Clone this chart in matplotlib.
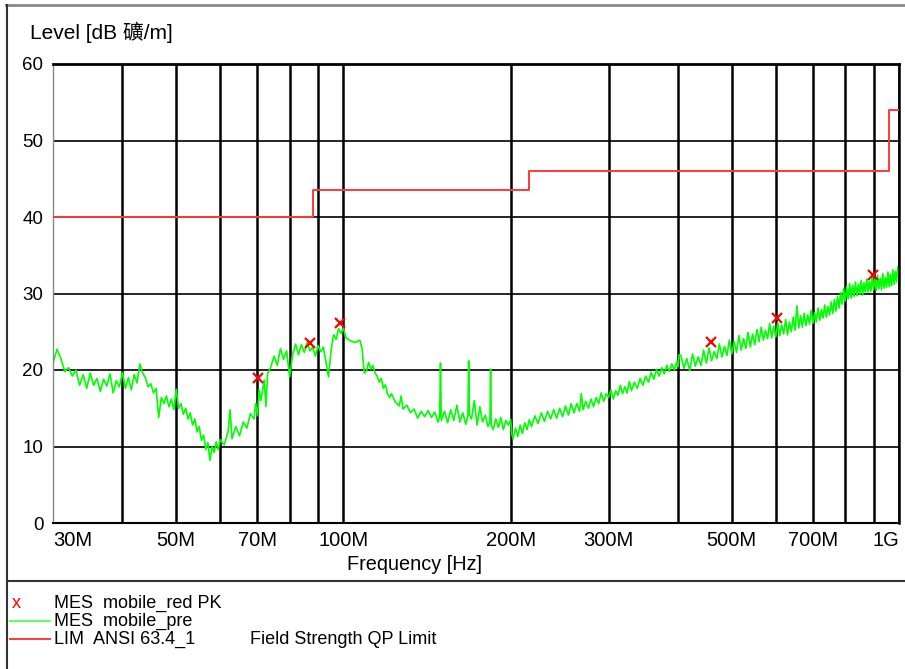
import matplotlib
matplotlib.use("Agg")
import matplotlib.pyplot as plt
from matplotlib.lines import Line2D

plt.rcParams['font.family'] = ['Liberation Sans', 'Noto Sans CJK SC', 'DejaVu Sans']

# Measured pre-scan trace (MHz, dBuV/m)
trace_freq = [
    30, 30.5, 31, 31.5, 32, 32.5, 33, 33.5, 34, 34.5, 35, 35.5, 36, 36.5, 37, 37.5,
    38, 38.5, 39, 39.5, 40, 40.5, 41, 41.5, 42, 42.5, 43, 43.5, 44, 44.5, 45, 45.5,
    46, 46.5, 47, 47.5, 48, 48.5, 49, 49.5, 50, 50.5, 51, 51.5, 52, 52.5, 53, 53.5,
    54, 54.5, 55, 55.5, 56, 56.5, 57, 57.5, 58, 58.5, 59, 59.5, 60,
    61, 62, 62.5, 63, 64, 65, 66, 67, 68, 69, 69.5, 70, 70.5, 71, 72, 72.5, 73, 74,
    75, 76, 77, 78, 79, 80, 81, 82, 83, 84, 85, 86, 87, 88, 89, 90, 91, 92, 93, 94,
    95, 96, 97, 98, 99, 100,
    101, 103, 105, 107, 108, 109, 110, 111, 112, 113, 114, 115, 116, 117, 118, 119,
    120, 121, 122, 124, 126, 127, 128, 130, 132, 134, 136, 138, 140, 142, 144, 146,
    148, 149, 149.5, 150, 152, 154, 156, 158, 160, 162, 164, 166, 167.5, 168, 168.5,
    170, 172, 174, 176, 178, 180, 182, 183.5, 184, 184.5, 186, 188, 190, 192, 194,
    196, 198, 200,
    201, 202, 204, 206, 208, 210, 212, 214, 216, 218, 221, 224, 227, 230, 233, 236,
    239, 242, 245, 248, 251, 254, 257, 260, 263, 266, 268, 270, 273, 276, 279, 282,
    285, 288, 291, 294, 297, 300, 303, 306, 309, 312, 315, 318, 321, 324, 327, 330,
    334, 338, 342, 346, 350, 354, 358, 362, 366, 370, 374, 378, 382, 386, 390, 394,
    398, 400, 402,
    405, 410, 415, 420, 425, 430, 435, 440, 445, 450, 455, 460, 465, 470, 475, 480,
    485, 490, 495, 500, 505, 510, 515, 520, 525, 530, 535, 540, 545, 550, 555, 560,
    565, 570, 575, 580, 585, 590, 595, 600, 605, 610, 615, 620, 625, 630, 635, 640,
    645, 650, 655, 660, 665, 670, 675, 680, 685, 690, 695, 700, 705, 710, 715, 720,
    725, 730, 735, 740, 745, 750, 755, 760, 765, 770, 775, 780, 785, 790, 795, 800,
    805, 810, 815, 820, 825, 830, 835, 840, 845, 850, 855, 860, 865, 870, 875, 880,
    885, 890, 895, 900, 905, 910, 915, 920, 925, 930, 935, 940, 945, 950, 955, 960,
    965, 970, 975, 980, 985, 990, 995, 1000,
]
trace_level = [
    20.9, 22.7, 21.5, 19.8, 20.3, 19.2, 20.0, 18.0, 19.4, 17.6, 19.6, 18.0, 18.9, 17.2, 18.8, 17.9,
    19.5, 17.0, 18.6, 17.8, 19.7, 17.6, 19.0, 17.4, 19.4, 18.3, 20.8, 19.6, 19.0, 17.8, 18.2, 17.0,
    17.6, 13.8, 16.4, 15.6, 16.6, 15.2, 16.2, 14.8, 17.5, 15.0, 15.6, 14.2, 15.0, 13.6, 14.4, 12.8,
    13.6, 11.9, 12.6, 10.8, 11.5, 9.6, 10.5, 8.2, 10.0, 9.2, 10.6, 9.6, 10.9,
    10.2, 12.0, 14.8, 11.0, 12.6, 11.4, 13.2, 12.4, 14.3, 13.6, 15.6, 14.0, 17.4, 16.0, 18.7, 15.2, 19.5, 20.4,
    21.8, 20.6, 22.8, 21.4, 22.5, 19.1, 22.0, 23.4, 22.0, 23.3, 22.3, 23.6, 22.5, 23.0, 21.8, 23.2, 22.4, 23.0, 21.0, 19.1,
    22.6, 24.6, 24.0, 25.4, 24.8, 25.5,
    24.2, 23.8, 23.6, 23.9, 22.8, 19.6, 19.9, 21.0, 20.1, 20.6, 19.6, 19.2, 18.4, 18.9, 17.6, 18.1,
    16.9, 16.4, 16.9, 15.8, 15.3, 16.6, 14.9, 15.4, 14.4, 14.9, 13.7, 14.6, 13.9, 14.7, 13.8, 14.5,
    13.2, 14.0, 20.9, 13.4, 14.6, 13.1, 14.8, 13.4, 15.4, 13.2, 14.4, 12.9, 14.0, 21.2, 14.2,
    13.6, 16.0, 12.8, 15.2, 13.2, 14.1, 12.6, 13.2, 20.1, 12.8, 12.2, 13.6, 12.5, 13.8, 12.2,
    13.4, 12.8, 13.5,
    11.5, 11.0, 12.4, 11.3, 12.8, 11.7, 13.1, 12.2, 13.5, 12.6, 14.0, 13.0, 14.4, 13.3, 14.6, 13.6,
    14.8, 13.7, 15.0, 13.9, 15.3, 14.1, 15.6, 14.4, 15.6, 14.6, 16.9, 14.8, 15.9, 15.0, 16.2, 15.2,
    16.4, 15.6, 17.0, 15.9, 16.9, 16.4, 17.4, 16.2, 17.3, 16.7, 18.0, 16.9, 17.8, 17.0, 18.5, 17.3,
    18.4, 17.6, 18.9, 18.0, 19.2, 18.4, 19.7, 18.8, 20.1, 19.2, 20.3, 19.5, 20.6, 19.8, 20.8, 20.0,
    21.1, 20.4, 22.0,
    21.9, 20.2, 21.5, 19.9, 22.1, 20.5, 21.7, 20.6, 22.6, 20.9, 22.9, 21.2, 22.4, 21.5, 23.4, 21.7,
    23.1, 21.9, 23.9, 22.1, 23.7, 22.3, 24.5, 22.6, 24.1, 22.8, 24.9, 23.0, 24.7, 23.3, 25.3, 23.7,
    25.6, 23.9, 25.2, 24.1, 26.1, 24.2, 25.7, 24.3, 26.2, 24.5, 25.9, 24.7, 26.6, 24.6, 26.3, 25.0,
    26.9, 25.2, 28.4, 25.5, 27.1, 25.6, 27.4, 25.8, 27.2, 26.0, 27.8, 26.1, 27.5, 26.3, 28.1, 26.5,
    27.9, 26.8, 28.5, 26.9, 28.3, 27.2, 28.9, 27.4, 29.2, 27.7, 29.6, 28.1, 30.1, 28.6, 30.6, 29.0,
    30.9, 29.3, 31.3, 29.4, 31.1, 29.6, 31.5, 29.7, 31.2, 29.9, 31.7, 29.8, 31.4, 30.1, 31.9, 30.2,
    31.6, 30.3, 32.3, 30.5, 31.9, 30.4, 32.4, 30.6, 32.0, 30.5, 32.6, 30.7, 32.1, 30.8, 32.8, 30.9,
    32.5, 31.0, 33.1, 31.2, 32.9, 31.5, 33.5, 32.6,
]

# Peak measurements
peak_freq = [70.3, 87.2, 98.7, 458, 603, 897]
peak_level = [18.9, 23.5, 26.1, 23.6, 26.8, 32.4]

# ANSI C63.4 limit steps
limit_freq = [30, 88, 216, 960, 1000]
limit_level = [40, 43.5, 46, 54, 54]

tick_freq = [30, 50, 70, 100, 200, 300, 500, 700, 1000]
tick_text = ['30M', '50M', '70M', '100M', '200M', '300M', '500M', '700M', '1G']
grid_freq = [40, 50, 60, 70, 80, 90, 100, 200, 300, 400, 500, 600, 700, 800, 900, 1000]

W, H = 905, 669
fig = plt.figure(figsize=(W / 100, H / 100), dpi=100)
ax = fig.add_axes([53 / W, 1 - 523 / H, (899 - 53) / W, (523 - 64) / H])

ax.set_xscale('log')
ax.set_xlim(30, 1000)
ax.set_ylim(0, 60)

for f in grid_freq:
    ax.axvline(f, color='black', lw=1.8, zorder=1)
for lv in [10, 20, 30, 40, 50]:
    ax.axhline(lv, color='black', lw=1.2, zorder=1)

ax.step(limit_freq, limit_level, where='post', color='#ff3838', lw=1.4, zorder=3)
ax.plot(trace_freq, trace_level, color='#00ff00', lw=1.2, zorder=2)
ax.plot(peak_freq, peak_level, 'x', color='red', ms=7, mew=1.6, zorder=4)

ax.set_xticks(tick_freq)
ax.set_xticklabels(tick_text)
ax.xaxis.set_minor_locator(plt.NullLocator())
ax.set_yticks([0, 10, 20, 30, 40, 50, 60])
ax.tick_params(axis='both', length=0)
ax.tick_params(axis='x', pad=6, labelsize=14.5)
ax.tick_params(axis='y', pad=7, labelsize=13.5)
labels = ax.get_xticklabels()
labels[0].set_ha('left')
labels[-1].set_ha('right')

ax.spines['top'].set_linewidth(2)
ax.spines['bottom'].set_linewidth(1.5)
ax.spines['left'].set_color('#888888')
ax.spines['left'].set_linewidth(1)
ax.spines['right'].set_linewidth(1.8)

fig.text(414 / W, 1 - 564 / H, 'Frequency [Hz]', fontsize=14.3, ha='center', va='center')
fig.text(30 / W, 1 - 32 / H, 'Level [dB 礦/m]', fontsize=15, va='center')

# outer frame and legend separator
fig.add_artist(Line2D([6 / W, 1], [1 - 5 / H, 1 - 5 / H], color='#888888', lw=2))
fig.add_artist(Line2D([7 / W, 7 / W], [0, 1 - 5 / H], color='#333333', lw=1.5))
fig.add_artist(Line2D([7 / W, 1], [1 - 581 / H, 1 - 581 / H], color='#333333', lw=1.5))

# legend block
fig.text(12 / W, 1 - 604 / H, 'x', color='red', fontsize=13, va='center')
fig.text(54 / W, 1 - 603 / H, 'MES  mobile_red PK', fontsize=13, va='center')
fig.add_artist(Line2D([10 / W, 50 / W], [1 - 621 / H, 1 - 621 / H], color='#66ff66', lw=1.5))
fig.text(54 / W, 1 - 621 / H, 'MES  mobile_pre', fontsize=13, va='center')
fig.add_artist(Line2D([10 / W, 50 / W], [1 - 639 / H, 1 - 639 / H], color='#ff3838', lw=1.4))
fig.text(54 / W, 1 - 639 / H, 'LIM  ANSI 63.4_1', fontsize=13, va='center')
fig.text(250 / W, 1 - 639 / H, 'Field Strength QP Limit', fontsize=13, va='center')

fig.savefig('out.png', dpi=100)
